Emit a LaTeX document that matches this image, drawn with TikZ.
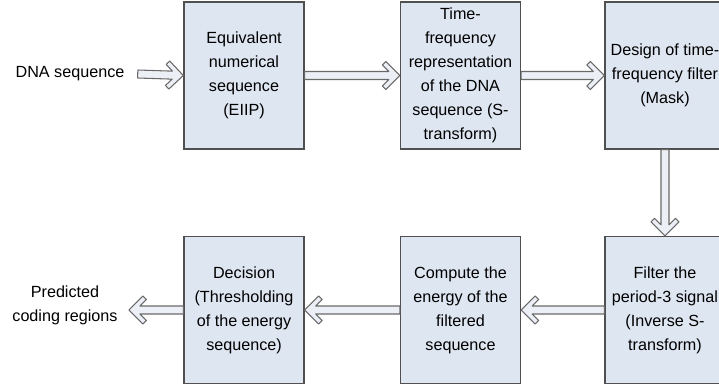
\documentclass[tikz,border=0pt]{standalone}
\usepackage{fontspec}
\setmainfont{Liberation Sans}
\usetikzlibrary{calc}
\definecolor{boxfill}{RGB}{222,230,241}
\definecolor{boxline}{RGB}{80,80,80}
\definecolor{pipeline}{RGB}{105,105,105}
\definecolor{pipefill}{RGB}{236,240,246}
\begin{document}
\begin{tikzpicture}[
	stage/.style={draw=boxline,line width=0.8pt,fill=boxfill,minimum width=2.4cm,minimum height=2.94cm,
		align=center,inner sep=0pt,font=\fontsize{9.2}{13.7}\selectfont},
	label/.style={align=center,inner ysep=0pt,font=\fontsize{9.2}{13.7}\selectfont},
	% hollow double-line arrow, tip at the target
	pipe/.style={draw=pipeline,line width=0.6pt,fill=pipefill,line join=round,
		to path={($(\tikztostart)!0.08cm!-90:(\tikztotarget)$)
			-- ($(\tikztotarget)!0.22cm!(\tikztostart)!0.08cm!90:(\tikztostart)$)
			-- ($(\tikztotarget)!0.35cm!(\tikztostart)!0.21cm!90:(\tikztostart)$)
			-- ($(\tikztotarget)!0.28cm!(\tikztostart)!0.28cm!90:(\tikztostart)$)
			-- (\tikztotarget)
			-- ($(\tikztotarget)!0.28cm!(\tikztostart)!0.28cm!-90:(\tikztostart)$)
			-- ($(\tikztotarget)!0.35cm!(\tikztostart)!0.21cm!-90:(\tikztostart)$)
			-- ($(\tikztotarget)!0.22cm!(\tikztostart)!0.08cm!-90:(\tikztostart)$)
			-- ($(\tikztostart)!0.08cm!90:(\tikztotarget)$) -- cycle}}]
	\clip (0,0) rectangle (14.38,-7.74);
	\node[label,inner xsep=0.26cm] (dna) at (1.4,-1.48) {DNA sequence};
	\node[stage] (eiip) at (4.88,-1.51) {Equivalent\\numerical\\sequence\\(EIIP)};
	\node[stage] (stran) at (9.21,-1.51) {Time-\\frequency\\representation\\of the DNA\\sequence (S-\\transform)};
	\node[stage] (mask) at (13.3,-1.51) {Design of time-\\frequency filter\\(Mask)};
	\node[stage] (filt) at (13.3,-6.2) {Filter the\\period-3 signal\\(Inverse S-\\transform)};
	\node[stage] (energy) at (9.21,-6.2) {Compute the\\energy of the\\filtered\\sequence};
	\node[stage] (decide) at (4.88,-6.2) {Decision\\(Thresholding\\of the energy\\sequence)};
	\node[label,inner xsep=0.22cm] (pred) at (1.3,-6.1) {Predicted\\coding regions};
	\draw[pipe] (dna.east) to (eiip.west);
	\draw[pipe] (eiip.east) to (stran.west);
	\draw[pipe] (stran.east) to (mask.west |- stran.east);
	\draw[pipe] (mask.south) to (filt.north);
	\draw[pipe] (filt.west) to (energy.east);
	\draw[pipe] (energy.west) to (decide.east);
	\draw[pipe] (decide.west) to (pred.east |- decide.west);
\end{tikzpicture}
\end{document}
